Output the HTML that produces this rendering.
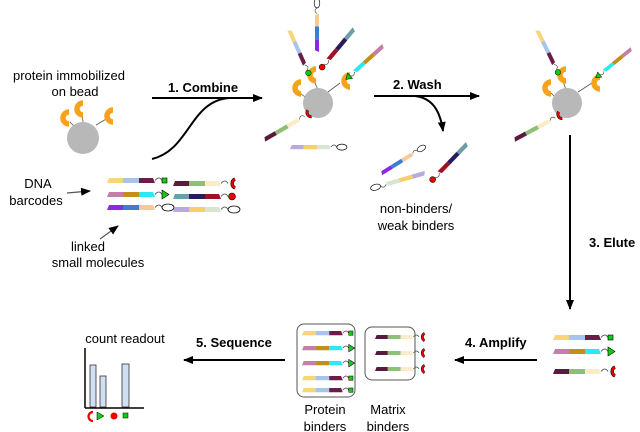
<!DOCTYPE html>
<html><head><meta charset="utf-8"><style>
html,body{margin:0;padding:0;background:#fff}
svg{display:block;font-family:"Liberation Sans",sans-serif}
</style></head><body>
<svg width="640" height="432" viewBox="0 0 640 432" xmlns="http://www.w3.org/2000/svg">
<defs>
<marker id="ah" markerWidth="10" markerHeight="8" refX="9" refY="4" orient="auto" markerUnits="userSpaceOnUse"><path d="M0,0 L10,4 L0,8 Z" fill="#000"/></marker>
<g id="sq"><path d="M48,2.5 q4,-5 7,0" fill="none" stroke="#444" stroke-width="0.8"/><rect x="55" y="0" width="5" height="5" fill="#1c1" stroke="#000" stroke-width="0.6"/></g>
<g id="tri"><path d="M48,2.5 q4,-5 7,0" fill="none" stroke="#444" stroke-width="0.8"/><path d="M55,-2 L62,2.5 L55,7 Z" fill="#1c1" stroke="#000" stroke-width="0.6"/></g>
<g id="ell"><path d="M48,2.5 q4,-5 7,0" fill="none" stroke="#444" stroke-width="0.8"/><ellipse cx="61" cy="2.5" rx="6" ry="3.5" fill="#fff" stroke="#000" stroke-width="0.8"/></g>
<g id="cc"><path d="M48,2.5 q4,-5 7,0" fill="none" stroke="#444" stroke-width="0.8"/><path d="M62,-2 A5,5 0 0 0 62,7" fill="none" stroke="#000" stroke-width="3.4"/><path d="M62,-2 A5,5 0 0 0 62,7" fill="none" stroke="#e00" stroke-width="2.2"/></g>
<g id="rc"><path d="M48,2.5 q4,-5 7,0" fill="none" stroke="#444" stroke-width="0.8"/><circle cx="59" cy="2.5" r="3.5" fill="#e00" stroke="#000" stroke-width="0.6"/></g>
<g id="gc"><path d="M48,2.5 q4,-5 7,0" fill="none" stroke="#444" stroke-width="0.8"/><circle cx="59" cy="2.5" r="3.5" fill="#1c1" stroke="#000" stroke-width="0.6"/></g>
<g id="segA"><polygon points="2,0 16,0 16,5 0,5" fill="#f9d57a"/><rect x="16" y="0" width="16" height="5" fill="#a9c4ec"/><polygon points="32,0 46,0 48,5 32,5" fill="#6b1d47"/></g>
<g id="sA"><use href="#segA"/><use href="#sq"/></g>
<g id="sAc"><use href="#segA"/><use href="#gc"/></g>
<g id="sB"><polygon points="2,0 16,0 16,5 0,5" fill="#c47fa8"/><rect x="16" y="0" width="16" height="5" fill="#c0901a"/><polygon points="32,0 46,0 48,5 32,5" fill="#2ee8f0"/><use href="#tri"/></g>
<g id="sC"><polygon points="2,0 16,0 16,5 0,5" fill="#8a2be2"/><rect x="16" y="0" width="16" height="5" fill="#3a7fd5"/><polygon points="32,0 46,0 48,5 32,5" fill="#f6c99a"/><use href="#ell"/></g>
<g id="sD"><polygon points="2,0 16,0 16,5 0,5" fill="#5a1a3c"/><rect x="16" y="0" width="16" height="5" fill="#8fbf77"/><polygon points="32,0 46,0 48,5 32,5" fill="#fbecc8"/><use href="#cc"/></g>
<g id="sE"><polygon points="2,0 16,0 16,5 0,5" fill="#6a9ea8"/><rect x="16" y="0" width="16" height="5" fill="#2a1a5e"/><polygon points="32,0 46,0 48,5 32,5" fill="#a01020"/><use href="#rc"/></g>
<g id="sF"><polygon points="2,0 16,0 16,5 0,5" fill="#b9a9dc"/><rect x="16" y="0" width="16" height="5" fill="#f6cf6a"/><polygon points="32,0 46,0 48,5 32,5" fill="#d7e6d0"/><use href="#ell"/></g>
<g id="prot"><path d="M5,-6 A6,6 0 1 0 5,6" fill="none" stroke="#f7a21b" stroke-width="5.5"/></g>
</defs>

<g font-size="13" fill="#000">
<text x="69" y="80" text-anchor="middle">protein immobilized</text>
<text x="75" y="96" text-anchor="middle">on bead</text>
<text x="38" y="188" text-anchor="middle">DNA</text>
<text x="36" y="205" text-anchor="middle">barcodes</text>
<text x="88" y="251" text-anchor="middle">linked</text>
<text x="98" y="267" text-anchor="middle">small molecules</text>
<text x="416" y="213" text-anchor="middle">non-binders/</text>
<text x="416" y="230" text-anchor="middle">weak binders</text>
<text x="125" y="343" text-anchor="middle">count readout</text>
<text x="325" y="414" text-anchor="middle">Protein</text>
<text x="325" y="431" text-anchor="middle">binders</text>
<text x="388" y="414" text-anchor="middle">Matrix</text>
<text x="388" y="431" text-anchor="middle">binders</text>
</g>
<g font-size="13" font-weight="bold">
<text x="168" y="92">1. Combine</text>
<text x="393" y="89">2. Wash</text>
<text x="589" y="247">3. Elute</text>
<text x="465" y="347">4. Amplify</text>
<text x="196" y="347">5. Sequence</text>
</g>

<g stroke="#000" stroke-width="2" fill="none">
<line x1="152" y1="98" x2="262" y2="98" marker-end="url(#ah)"/>
<path d="M152,159 C190,150 190,100 230,98"/>
<line x1="374" y1="96" x2="479" y2="96" marker-end="url(#ah)"/>
<path d="M415,96 C432,98 440,110 443,131" marker-end="url(#ah)"/>
<line x1="570" y1="135" x2="570" y2="309" marker-end="url(#ah)"/>
<line x1="537" y1="360" x2="455" y2="360" marker-end="url(#ah)"/>
<line x1="285" y1="360" x2="184" y2="360" marker-end="url(#ah)"/>
</g>
<g stroke="#555" stroke-width="1.2">
<line x1="67" y1="193" x2="90" y2="191" marker-end="url(#ah)"/>
<line x1="100" y1="239" x2="118" y2="226" marker-end="url(#ah)"/>
</g>

<!-- bead 1 -->
<g stroke="#555" stroke-width="0.8"><line x1="70" y1="122" x2="78" y2="130"/><line x1="82" y1="112" x2="83" y2="122"/><line x1="108" y1="118" x2="96" y2="125"/></g>
<circle cx="83" cy="138" r="16" fill="#b8b8b8"/>
<use href="#prot" transform="translate(64,118)"/>
<use href="#prot" transform="translate(78,109)"/>
<use href="#prot" transform="translate(108,116)"/>

<!-- library -->
<use href="#sA" transform="translate(107,178)"/>
<use href="#sB" transform="translate(107,192)"/>
<use href="#sC" transform="translate(107,205)"/>
<use href="#sD" transform="translate(173,181)"/>
<use href="#sE" transform="translate(173,194)"/>
<use href="#sF" transform="translate(173,207)"/>

<!-- bead 2 -->
<g stroke="#555" stroke-width="0.8"><line x1="313" y1="78" x2="318" y2="90"/><line x1="340" y1="83" x2="328" y2="92"/><line x1="300" y1="93" x2="305" y2="97"/></g>
<circle cx="318" cy="103" r="15" fill="#b8b8b8"/>
<use href="#prot" transform="translate(296,88)"/>
<use href="#prot" transform="translate(311,75)"/>
<use href="#prot" transform="translate(345,81)"/>
<use href="#sAc" transform="translate(291,29) rotate(66) scale(0.8)"/>
<use href="#sC" transform="translate(315,52) rotate(-90) scale(0.8)"/>
<use href="#sE" transform="translate(356,30) rotate(130) scale(0.85)"/>
<use href="#sB" transform="translate(385,47) rotate(138) scale(0.82)"/>
<use href="#sD" transform="translate(263,138) rotate(-30) scale(0.85)"/>
<use href="#sF" transform="translate(290,145) scale(0.85)"/>
<!-- washed -->
<use href="#sC" transform="translate(380,172) rotate(-32) scale(0.78)"/>
<use href="#sF" transform="translate(426,175) rotate(164) scale(0.85)"/>
<use href="#sE" transform="translate(469,145) rotate(134) scale(0.85)"/>

<!-- bead 3 -->
<g stroke="#555" stroke-width="0.8"><line x1="562" y1="78" x2="566" y2="90"/><line x1="592" y1="83" x2="578" y2="92"/><line x1="549" y1="91" x2="554" y2="96"/></g>
<circle cx="567" cy="103" r="15" fill="#b8b8b8"/>
<use href="#prot" transform="translate(546,88)"/>
<use href="#prot" transform="translate(561,75)"/>
<use href="#prot" transform="translate(595,83)"/>
<use href="#sAc" transform="translate(539,29) rotate(64) scale(0.8)"/>
<use href="#sB" transform="translate(633,50) rotate(141) scale(0.75)"/>
<use href="#sD" transform="translate(513,138) rotate(-28) scale(0.85)"/>

<!-- eluted -->
<use href="#sA" transform="translate(553,335)"/>
<use href="#sB" transform="translate(553,349)"/>
<use href="#sD" transform="translate(553,369)"/>

<!-- boxes -->
<rect x="365" y="327" width="50" height="53" rx="7" fill="none" stroke="#555" stroke-width="1"/>
<use href="#sD" transform="translate(375,335) scale(0.8)"/>
<use href="#sD" transform="translate(375,351) scale(0.8)"/>
<use href="#sD" transform="translate(375,367) scale(0.8)"/>
<rect x="297" y="324" width="58" height="73" rx="7" fill="none" stroke="#555" stroke-width="1"/>
<use href="#sA" transform="translate(302,331) scale(0.85)"/>
<use href="#sB" transform="translate(302,346) scale(0.85)"/>
<use href="#sB" transform="translate(302,361) scale(0.85)"/>
<use href="#sA" transform="translate(302,376) scale(0.85)"/>
<use href="#sA" transform="translate(302,388) scale(0.85)"/>

<!-- chart -->
<rect x="90" y="365" width="6" height="42" fill="#cfe0f3" stroke="#333" stroke-width="0.8"/>
<rect x="100" y="376" width="6" height="31" fill="#cfe0f3" stroke="#333" stroke-width="0.8"/>
<rect x="122" y="364" width="7" height="43" fill="#cfe0f3" stroke="#333" stroke-width="0.8"/>
<g stroke="#000" stroke-width="1.5"><line x1="85" y1="348" x2="85" y2="408"/><line x1="85" y1="408" x2="144" y2="408"/></g>
<path d="M93,412 A4.5,4.5 0 0 0 93,421" fill="none" stroke="#e00" stroke-width="2.2"/>
<path d="M97,412 L104,416 L97,420 Z" fill="#1c1" stroke="#000" stroke-width="0.5"/>
<circle cx="114" cy="416" r="3.5" fill="#e00"/>
<rect x="123" y="413" width="5" height="5" fill="#1c1" stroke="#000" stroke-width="0.5"/>
</svg>
</body></html>
